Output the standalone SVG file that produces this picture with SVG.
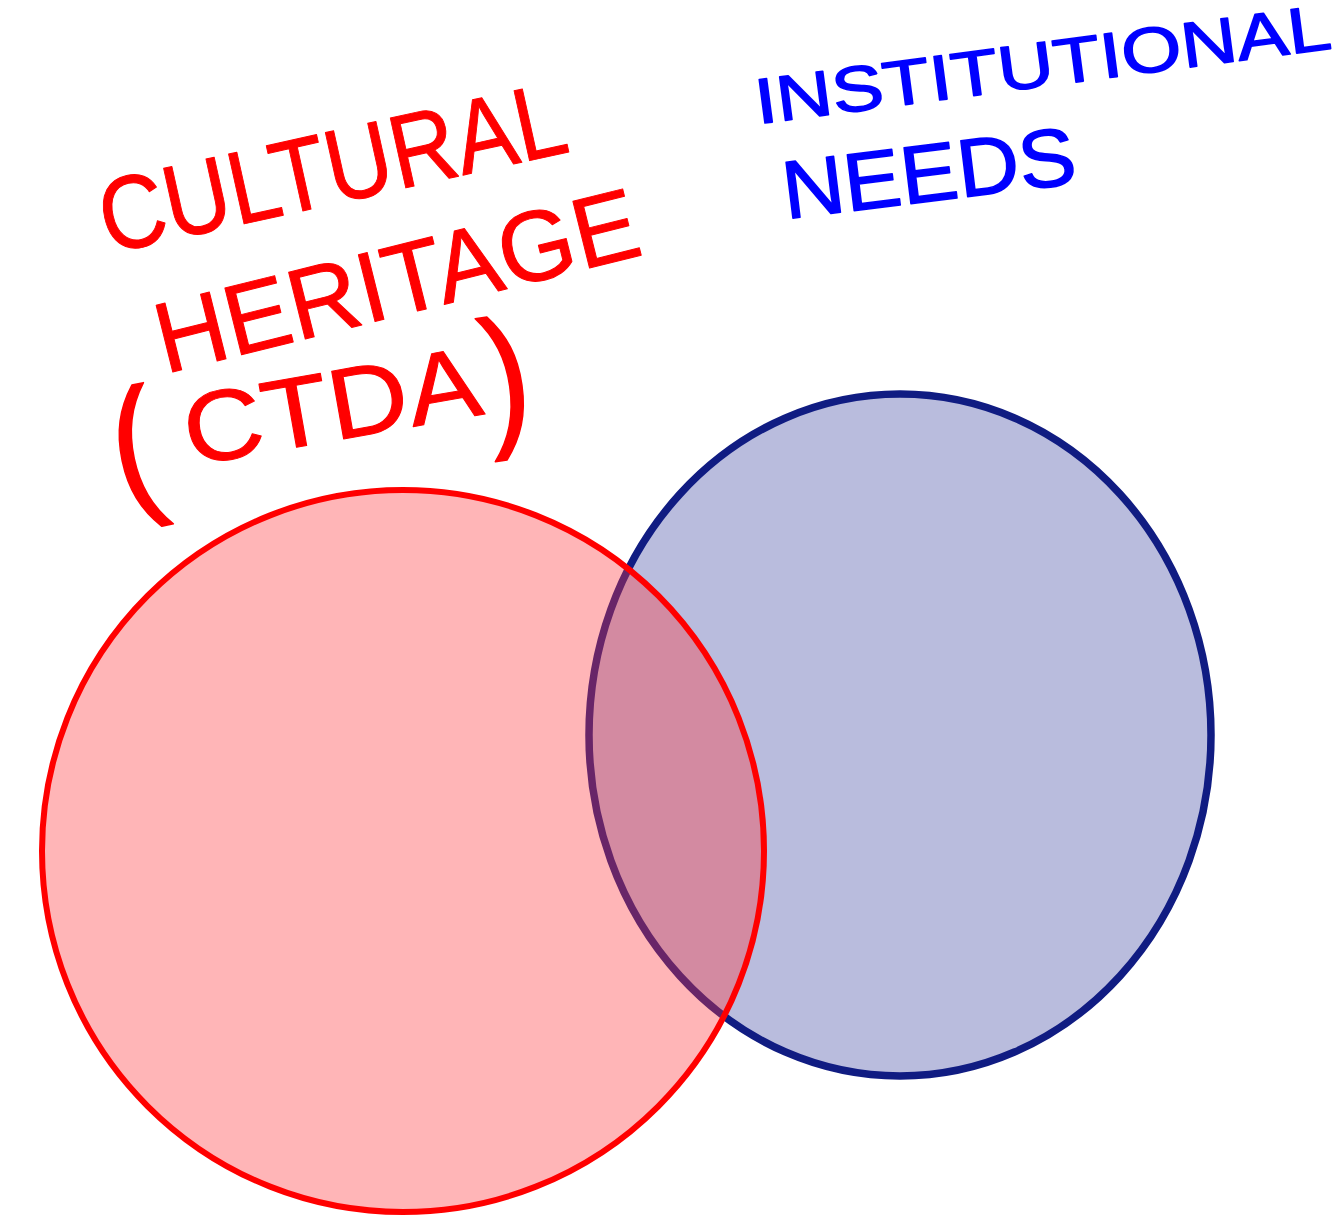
<svg xmlns="http://www.w3.org/2000/svg" width="1343" height="1217" viewBox="0 0 1343 1217">
  <style>
    .red { fill: #ff0000; stroke: #ff0000; stroke-width: 1; stroke-linejoin: round; font-family: "Liberation Sans", Arial, sans-serif; }
    .blue { fill: #0000ff; stroke: #0000ff; stroke-width: 1.5; stroke-linejoin: round; font-family: "Liberation Sans", Arial, sans-serif; }
  </style>
  <rect width="1343" height="1217" fill="#ffffff"/>
  <g id="institutional-needs-set">
    <ellipse cx="900" cy="735" rx="311" ry="341" fill="#b9bcdd" stroke="#101c82" stroke-width="7.5"/>
  </g>
  <g id="cultural-heritage-set">
    <circle cx="403" cy="851" r="361" fill="rgb(255,54,59)" fill-opacity="0.37" stroke="none"/>
    <circle cx="403" cy="851" r="361" fill="none" stroke="#ff0000" stroke-width="6"/>
  </g>
  <g id="label-cultural-heritage">
    <text class="red" transform="translate(108,254) rotate(-12.5)" font-size="104" textLength="475" lengthAdjust="spacingAndGlyphs">CULTURAL</text>
    <text class="red" transform="translate(165,374) rotate(-14)" font-size="100" textLength="495" lengthAdjust="spacingAndGlyphs">HERITAGE</text>
    <text class="red" transform="translate(190,466) rotate(-10)" font-size="100" textLength="300" lengthAdjust="spacingAndGlyphs">CTDA</text>
    <text class="red" transform="translate(122,502) rotate(-12) scale(1.4,1.55)" font-size="100">(</text>
    <text class="red" transform="translate(490,430) rotate(-8) scale(1.4,1.55)" font-size="100">)</text>
  </g>
  <g id="label-institutional-needs">
    <text class="blue" transform="translate(758,124) rotate(-7.5)" font-size="64" textLength="580" lengthAdjust="spacingAndGlyphs">INSTITUTIONAL</text>
    <text class="blue" transform="translate(786,219) rotate(-7)" font-size="82" textLength="295" lengthAdjust="spacingAndGlyphs">NEEDS</text>
  </g>
  <g id="connectors"></g>
</svg>
